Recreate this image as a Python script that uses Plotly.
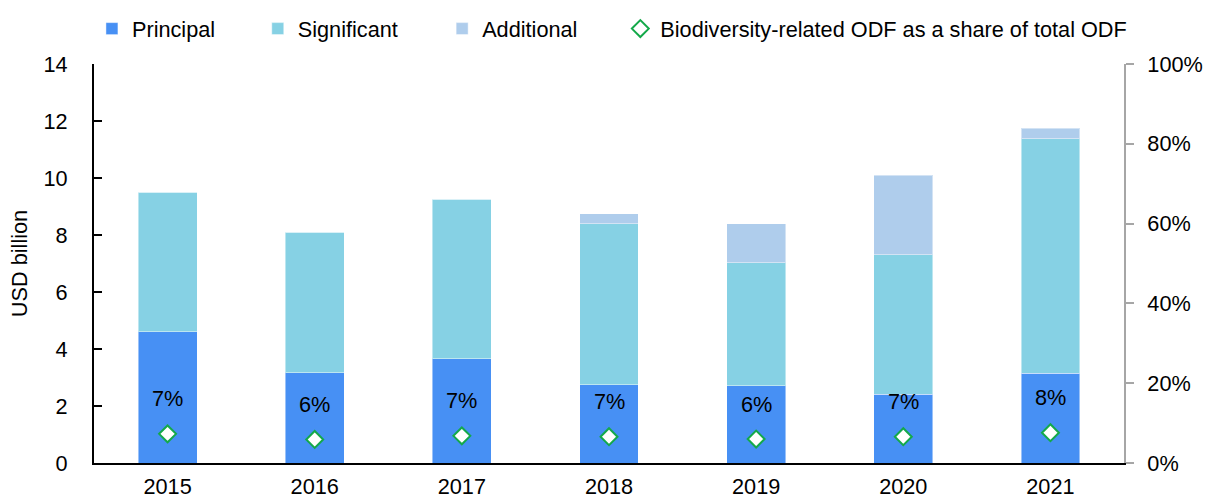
import plotly.graph_objects as go

years = ["2015", "2016", "2017", "2018", "2019", "2020", "2021"]
principal = [4.61, 3.17, 3.65, 2.74, 2.71, 2.42, 3.15]
significant = [4.89, 4.93, 5.61, 5.66, 4.32, 4.88, 8.22]
additional = [0.0, 0.0, 0.0, 0.35, 1.37, 2.80, 0.38]
share = [0.073, 0.059, 0.068, 0.066, 0.060, 0.066, 0.076]

names = ["Principal", "Significant", "Additional",
         "Biodiversity-related ODF as a share of total ODF"]
colors = ["#4790F4", "#86D1E4", "#AFCDEC"]
green = "#14A94A"
FONT = "Liberation Sans, Arial, sans-serif"
FS = 21.7

fig = go.Figure()
legends = ["legend2", "legend3", "legend4", "legend5"]
for vals, name, col, lg in zip([principal, significant, additional], names[:3], colors, legends[:3]):
    fig.add_trace(go.Bar(
        x=years, y=vals, name=name, legend=lg,
        marker=dict(color=col, line=dict(color="rgba(255,255,255,0.45)", width=1)),
        width=0.4, hoverinfo="skip"))

fig.add_trace(go.Scatter(
    x=years, y=share, yaxis="y2", name=names[3], legend=legends[3],
    mode="markers",
    marker=dict(symbol="diamond", size=13, color="white", line=dict(color=green, width=2)),
    hoverinfo="skip"))

for i, s in enumerate(share):
    fig.add_annotation(x=i, y=s, xref="x", yref="y2", text=f"{round(s*100)}%", showarrow=False,
                       yshift=35, font=dict(size=FS, color="black", family=FONT))

leg_common = dict(orientation="h", yanchor="middle", y=1.0877, xanchor="left",
                  font=dict(size=FS, color="black", family=FONT),
                  bgcolor="rgba(0,0,0,0)", borderwidth=0)
leg_x = [-0.002, 0.159, 0.338, 0.511]

fig.update_layout(
    barmode="stack",
    width=1205, height=498,
    margin=dict(l=94, r=81, t=64, b=35, autoexpand=False),
    plot_bgcolor="white", paper_bgcolor="white",
    font=dict(family=FONT, size=FS, color="black"),
    legend2=dict(x=leg_x[0], **leg_common),
    legend3=dict(x=leg_x[1], **leg_common),
    legend4=dict(x=leg_x[2], **leg_common),
    legend5=dict(x=leg_x[3], **leg_common),
    xaxis=dict(type="category", range=[-0.5, len(years) - 0.5], showline=True,
               linecolor="black", linewidth=2,
               ticks="outside", ticklen=3, tickcolor="rgba(0,0,0,0)",
               showgrid=False, tickfont=dict(size=FS)),
    yaxis=dict(range=[0, 14], dtick=2, showline=True, linecolor="black", linewidth=2,
               ticks="inside", ticklen=8, tickwidth=2, tickcolor="black",
               showgrid=False, zeroline=False, tickfont=dict(size=FS),
               ticklabelstandoff=20, automargin=False,
               title=dict(text="USD billion", font=dict(size=FS), standoff=10)),
    yaxis2=dict(range=[0, 1], dtick=0.2, tickformat=".0%", overlaying="y", side="right",
                showline=True, linecolor="#A6A6A6", linewidth=2,
                ticks="outside", ticklen=8, tickwidth=2, tickcolor="#A6A6A6",
                showgrid=False, zeroline=False, tickfont=dict(size=FS),
                ticklabelstandoff=9, automargin=False),
)

fig.write_html("out.html", config={"displayModeBar": False},
               post_script="document.body.style.margin='0';")
